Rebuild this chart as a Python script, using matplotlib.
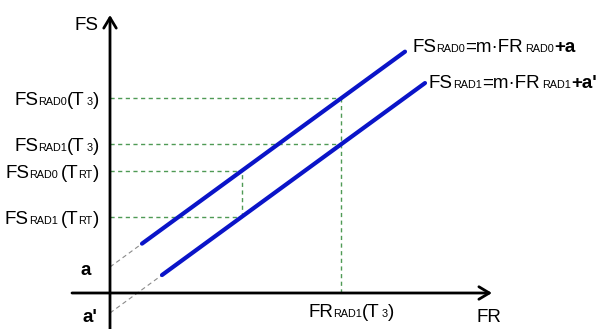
import matplotlib
matplotlib.use("Agg")
import matplotlib.pyplot as plt

plt.rcParams['font.family'] = ['Liberation Sans', 'DejaVu Sans']

# straight lines FS = m * FR + a
m = 0.73
a_rad0 = 26.0      # a
a_rad1 = -20.0     # a'
rad0_solid = [32, 295]     # FR range of the solid RAD0 segment
rad1_solid = [52, 315]     # FR range of the solid RAD1 segment
fr_t3 = 231.0
fr_rt = 131.5

BIG = 13.5
SMALL = 7.8
BLUE = '#0a14c8'
GUIDE = '#4f9a55'
GREY = '#8a8a8a'


def fs(fr, a):
    return m * fr + a


fig = plt.figure(figsize=(6.11, 3.29), dpi=100)
ax = fig.add_axes([0, 0, 1, 1])
# one data unit = one pixel, origin where the axes cross
ax.set_xlim(-110, 501)
ax.set_ylim(-36, 293)
ax.axis('off')

# axes with open arrow heads
arrow = dict(arrowstyle='->,head_length=0.75,head_width=0.45', lw=2.0,
             color='black', shrinkA=0, shrinkB=0)
ax.annotate('', xy=(0, 278), xytext=(0, -36), arrowprops=arrow)
ax.annotate('', xy=(382, 0), xytext=(-38, 0), arrowprops=arrow)

# dashed extensions down to the intercepts
ax.plot([0, rad0_solid[0]], [a_rad0, fs(rad0_solid[0], a_rad0)],
        ls=(0, (4, 3)), lw=0.8, color=GREY)
ax.plot([0, rad1_solid[0]], [a_rad1, fs(rad1_solid[0], a_rad1)],
        ls=(0, (4, 3)), lw=0.8, color=GREY)

# guide lines
dash = dict(ls=(0, (3, 2.5)), lw=1.0, color=GUIDE)
for fr_v, a in [(fr_t3, a_rad0), (fr_t3, a_rad1), (fr_rt, a_rad0), (fr_rt, a_rad1)]:
    ax.plot([0, fr_v], [fs(fr_v, a)] * 2, **dash)
ax.plot([fr_t3, fr_t3], [0, fs(fr_t3, a_rad0)], **dash)
ax.plot([fr_rt, fr_rt], [fs(fr_rt, a_rad1), fs(fr_rt, a_rad0)], **dash)

# the two lines
ax.plot(rad0_solid, [fs(x, a_rad0) for x in rad0_solid], color=BLUE, lw=3.0,
        solid_capstyle='round')
ax.plot(rad1_solid, [fs(x, a_rad1) for x in rad1_solid], color=BLUE, lw=3.0,
        solid_capstyle='round')

renderer = fig.canvas.get_renderer()


def rich_label(x, y, pieces, ha='left'):
    # pieces: (text, size, weight, gap before in px); x,y is the baseline start/end
    texts = []
    total = 0.0
    for s, size, weight, gap in pieces:
        t = ax.text(0, y, s, fontsize=size, fontweight=weight, va='baseline', ha='left')
        w = t.get_window_extent(renderer).width
        texts.append((t, gap, w))
        total += gap + w
    cx = x - total if ha == 'right' else x
    for t, gap, w in texts:
        cx += gap
        t.set_x(cx)
        cx += w


def fs_label(sub, t_sub, gap_paren, gap_sub):
    return [('FS', BIG, 'normal', 0), (sub, SMALL, 'normal', 0),
            ('(T', BIG, 'normal', gap_paren), (t_sub, SMALL, 'normal', gap_sub),
            (')', BIG, 'normal', 0)]


y_labels = [
    (fs(fr_t3, a_rad0), fs_label('RAD0', '3', 0, 2)),
    (fs(fr_t3, a_rad1), fs_label('RAD1', '3', 0, 2)),
    (fs(fr_rt, a_rad0), fs_label('RAD0', 'RT', 3, 0)),
    (fs(fr_rt, a_rad1), fs_label('RAD1', 'RT', 3, 0)),
]
for yv, pieces in y_labels:
    rich_label(-11, yv - 6.5, pieces, ha='right')

ax.text(-19, a_rad0 - 8, 'a', fontsize=BIG, fontweight='bold', ha='right', va='baseline')
ax.text(-13, a_rad1 - 9, "a'", fontsize=BIG, fontweight='bold', ha='right', va='baseline')
ax.text(-35, 263, 'FS', fontsize=BIG, va='baseline')
ax.text(367, -29, 'FR', fontsize=BIG, va='baseline')

rich_label(fr_t3 - 33, -24, [('FR', BIG, 'normal', 0), ('RAD1', SMALL, 'normal', 0),
                             ('(T', BIG, 'normal', 0), ('3', SMALL, 'normal', 2),
                             (')', BIG, 'normal', 0)])

rich_label(rad0_solid[1] + 7, fs(rad0_solid[1], a_rad0),
           [('FS', BIG, 'normal', 0), ('RAD0', SMALL, 'normal', 0),
            ('=m·FR', BIG, 'normal', 0), ('RAD0', SMALL, 'normal', 3),
            ('+a', BIG, 'bold', 0)])
rich_label(rad1_solid[1] + 4, fs(rad1_solid[1], a_rad1) - 5,
           [('FS', BIG, 'normal', 0), ('RAD1', SMALL, 'normal', 0),
            ('=m·FR', BIG, 'normal', 0), ('RAD1', SMALL, 'normal', 3),
            ("+a'", BIG, 'bold', 0)])

fig.savefig('out.png', dpi=100)
